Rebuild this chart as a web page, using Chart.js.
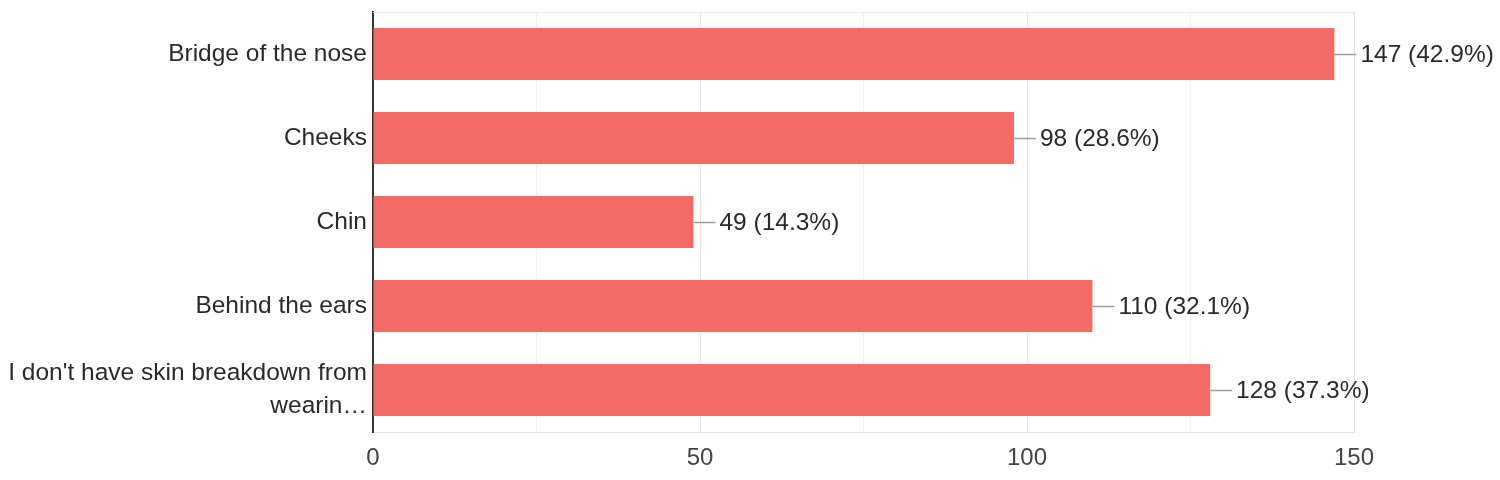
<!DOCTYPE html>
<html>
<head>
<meta charset="utf-8">
<script src="https://cdn.jsdelivr.net/npm/chart.js@4"></script>
<style>
  html, body { margin: 0; padding: 0; background: #fff; }
  #wrap { width: 1500px; height: 480px; }
</style>
</head>
<body>
<div id="wrap"><canvas id="chart"></canvas></div>
<script>
const categories = [
  "Bridge of the nose",
  "Cheeks",
  "Chin",
  "Behind the ears",
  ["I don't have skin breakdown from", "wearin…"],
];
const counts = [147, 98, 49, 110, 128];
const percents = ["42.9%", "28.6%", "14.3%", "32.1%", "37.3%"];

const FONT = "'Liberation Sans', Arial, sans-serif";

// leader line + "n (p%)" label right of each bar, plus top frame line
const valueLabels = {
  id: "valueLabels",
  afterDatasetsDraw(chart) {
    const ctx = chart.ctx;
    const area = chart.chartArea;
    ctx.save();
    ctx.strokeStyle = "#ebebeb";
    ctx.lineWidth = 1;
    ctx.beginPath();
    ctx.moveTo(area.left, area.top + 0.5);
    ctx.lineTo(area.right, area.top + 0.5);
    ctx.stroke();

    const meta = chart.getDatasetMeta(0);
    ctx.font = "24.5px " + FONT;
    ctx.textBaseline = "middle";
    ctx.fillStyle = "#2a2a2a";
    meta.data.forEach((bar, i) => {
      const y = Math.round(bar.y) + 0.5;
      ctx.strokeStyle = "#9e9e9e";
      ctx.lineWidth = 1.5;
      ctx.beginPath();
      ctx.moveTo(bar.x, y);
      ctx.lineTo(bar.x + 22, y);
      ctx.stroke();
      ctx.fillText(counts[i] + " (" + percents[i] + ")", bar.x + 26, bar.y + 1);
    });
    ctx.restore();
  },
};

new Chart(document.getElementById("chart"), {
  type: "bar",
  data: {
    labels: categories,
    datasets: [
      {
        data: counts,
        backgroundColor: "#f46b63",
        barPercentage: 0.62,
        categoryPercentage: 1,
      },
    ],
  },
  options: {
    indexAxis: "y",
    responsive: true,
    maintainAspectRatio: false,
    animation: false,
    layout: { padding: { top: 12, right: 146, left: 0, bottom: 0 } },
    plugins: { legend: { display: false }, tooltip: { enabled: false } },
    scales: {
      x: {
        min: 0,
        max: 150,
        ticks: {
          stepSize: 25,
          callback: (v) => (v % 50 === 0 ? v : ""),
          font: { family: FONT, size: 24 },
          color: "#444",
          padding: 12,
          maxRotation: 0,
        },
        grid: {
          color: (c) => (c.tick && c.tick.value % 50 === 0 ? "#e4e4e4" : "#f2f2f2"),
          drawTicks: false,
        },
        border: { color: "#e4e4e4" },
        afterFit(scale) {
          scale.height = 48;
          scale.paddingLeft = 0;
          scale.paddingRight = 0;
        },
      },
      y: {
        ticks: {
          font: { family: FONT, size: 24.5, lineHeight: 1.35 },
          color: "#2a2a2a",
          padding: 6,
        },
        grid: { display: false, drawTicks: false },
        border: { color: "#333", width: 2 },
        afterFit(scale) {
          scale.width = 373;
          scale.paddingTop = 0;
          scale.paddingBottom = 0;
        },
      },
    },
  },
  plugins: [valueLabels],
});
</script>
</body>
</html>
